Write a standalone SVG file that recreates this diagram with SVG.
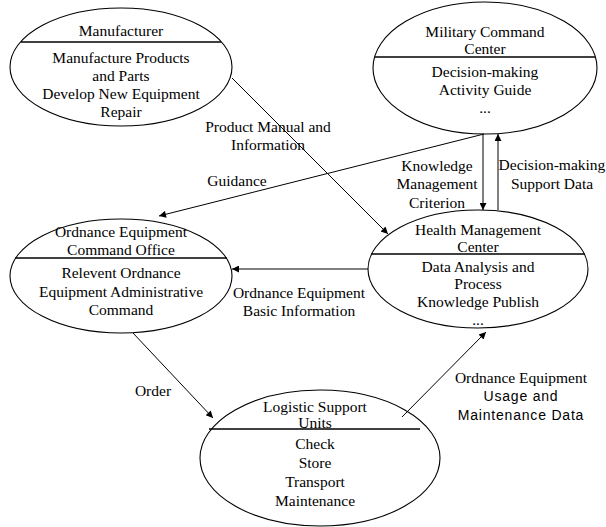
<svg xmlns="http://www.w3.org/2000/svg" width="606" height="527" viewBox="0 0 606 527" font-family="'Liberation Serif', 'Times New Roman', serif">
<defs>
<marker id="arr" viewBox="0 0 10 10" refX="10" refY="5" markerWidth="9" markerHeight="7" markerUnits="userSpaceOnUse" orient="auto">
<path d="M0,0 L10,5 L0,10 z" fill="#000"/>
</marker>
</defs>
<style>
.el{fill:#fff;stroke:#000;stroke-width:1.1}
.dv{stroke:#000;stroke-width:1.3}
text.t{font-family:'Liberation Serif','Times New Roman',serif;font-size:15.5px;fill:#000;text-anchor:middle;dominant-baseline:central}
text.s{font-family:'Liberation Sans',Arial,sans-serif;font-size:14px;fill:#000;text-anchor:middle;dominant-baseline:central;letter-spacing:0.8px}
.c{fill:none;stroke:#000;stroke-width:1;marker-end:url(#arr)}
</style>
<rect width="606" height="527" fill="#fff"/>
<g id="manufacturer">
<ellipse class="el" cx="121" cy="67" rx="111" ry="59"/>
<line class="dv" x1="21" y1="42" x2="221" y2="42"/>
<text class="t" x="121" y="30">Manufacturer</text>
<text class="t" x="121" y="57">Manufacture Products</text>
<text class="t" x="121" y="75">and Parts</text>
<text class="t" x="121" y="93">Develop New Equipment</text>
<text class="t" x="121" y="111">Repair</text>
</g>
<g id="military">
<ellipse class="el" cx="485" cy="68" rx="112" ry="66"/>
<line class="dv" x1="375" y1="57" x2="595" y2="57"/>
<text class="t" x="485" y="31">Military Command</text>
<text class="t" x="485" y="48">Center</text>
<text class="t" x="485" y="71">Decision-making</text>
<text class="t" x="485" y="89">Activity Guide</text>
<text class="t" x="485" y="107">...</text>
</g>
<g id="ordnance-office">
<ellipse class="el" cx="121" cy="276" rx="111" ry="57"/>
<line class="dv" x1="15" y1="258" x2="227" y2="258"/>
<text class="t" x="121" y="231">Ordnance Equipment</text>
<text class="t" x="121" y="249">Command Office</text>
<text class="t" x="121" y="272">Relevent Ordnance</text>
<text class="t" x="121" y="291">Equipment Administrative</text>
<text class="t" x="121" y="309">Command</text>
</g>
<g id="health">
<ellipse class="el" cx="478" cy="269" rx="110" ry="59"/>
<line class="dv" x1="371" y1="254" x2="585" y2="254"/>
<text class="t" x="478" y="229">Health Management</text>
<text class="t" x="478" y="246">Center</text>
<text class="t" x="478" y="266">Data Analysis and</text>
<text class="t" x="478" y="283">Process</text>
<text class="t" x="478" y="301">Knowledge Publish</text>
<text class="t" x="478" y="319">...</text>
</g>
<g id="logistic">
<ellipse class="el" cx="320" cy="458" rx="120" ry="68"/>
<line class="dv" x1="209" y1="429" x2="420" y2="429"/>
<text class="t" x="315" y="406">Logistic Support</text>
<text class="t" x="315" y="422">Units</text>
<text class="t" x="315" y="443">Check</text>
<text class="t" x="315" y="462">Store</text>
<text class="t" x="315" y="481">Transport</text>
<text class="t" x="315" y="500">Maintenance</text>
</g>
<g id="connectors">
<line class="c" x1="232" y1="78" x2="388" y2="234"/>
<line class="c" x1="484" y1="134" x2="159" y2="216"/>
<line class="c" x1="483" y1="134" x2="483" y2="210"/>
<line class="c" x1="498" y1="210" x2="498" y2="134"/>
<line class="c" x1="368" y1="269" x2="232" y2="269"/>
<line class="c" x1="133" y1="333" x2="213" y2="418"/>
<line class="c" x1="402" y1="417" x2="486" y2="332"/>
</g>
<g id="labels">
<text class="t" x="268" y="126">Product Manual and</text>
<text class="t" x="268" y="144">Information</text>
<text class="t" x="237" y="180">Guidance</text>
<text class="t" x="437" y="165">Knowledge</text>
<text class="t" x="437" y="183">Management</text>
<text class="t" x="437" y="202">Criterion</text>
<text class="t" x="552" y="164">Decision-making</text>
<text class="t" x="552" y="183">Support Data</text>
<text class="t" x="299" y="292">Ordnance Equipment</text>
<text class="t" x="299" y="310">Basic Information</text>
<text class="t" x="153" y="390">Order</text>
<text class="t" x="521" y="377">Ordnance Equipment</text>
<text class="s" x="521" y="396">Usage and</text>
<text class="s" x="521" y="415">Maintenance Data</text>
</g>
</svg>
